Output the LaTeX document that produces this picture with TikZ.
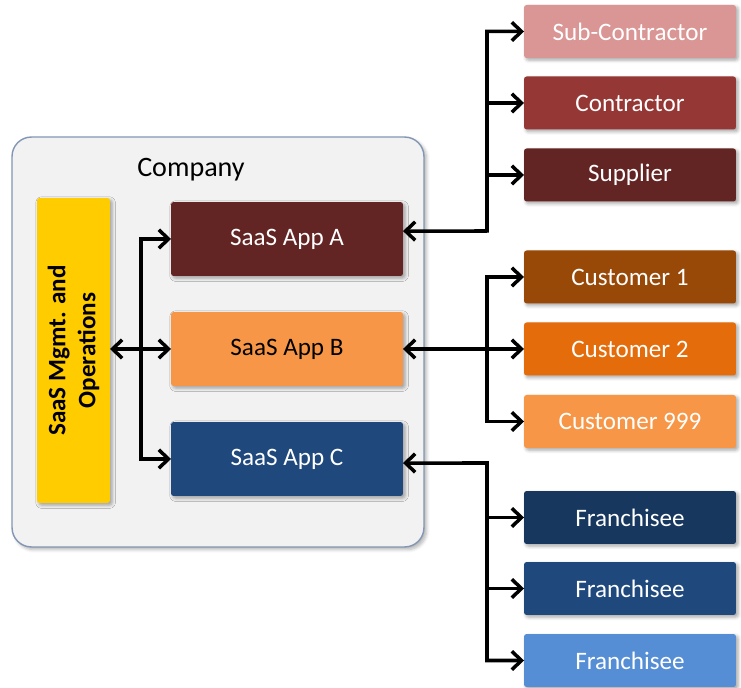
\documentclass[tikz,border=0pt]{standalone}
\usepackage{fontspec}
\setmainfont{Carlito}
\usetikzlibrary{calc}
\usetikzlibrary{arrows.meta}
\usetikzlibrary{shadows.blur}

\definecolor{wine}{HTML}{632523}
\definecolor{rose}{HTML}{D99694}
\definecolor{brick}{HTML}{953735}
\definecolor{rust}{HTML}{984807}
\definecolor{pumpkin}{HTML}{E46C0A}
\definecolor{apricot}{HTML}{F79646}
\definecolor{navy}{HTML}{17375E}
\definecolor{denim}{HTML}{1F497D}
\definecolor{sky}{HTML}{558ED5}
\definecolor{gold}{HTML}{FFCC00}
\definecolor{panel}{HTML}{F2F2F2}
\definecolor{panelline}{HTML}{8397B4}

\begin{document}
\begin{tikzpicture}[x=0.02cm, y=-0.02cm,
    >={Straight Barb[length=5.5pt,width=10.5pt]},
    link/.style={line width=2pt},
    tile/.style={rectangle, rounded corners=1.5pt, outer sep=0pt, text=white,
      font=\fontsize{14.3pt}{17pt}\selectfont,
      blur shadow={shadow blur steps=4, shadow xshift=1.2pt, shadow yshift=-1.2pt, shadow opacity=35}},
    app/.style={tile, minimum width=4.64cm, minimum height=1.48cm},
    partner/.style={tile, minimum width=4.24cm, minimum height=1.06cm}]
        \useasboundingbox (0,0) rectangle (741,688);

        % Company
        \node [rectangle, rounded corners=11pt, fill=panel, draw=panelline, line width=0.8pt,
          minimum width=8.24cm, minimum height=8.2cm,
          blur shadow={shadow blur steps=5, shadow xshift=1.5pt, shadow yshift=-1.5pt, shadow opacity=30}]
          (company) at (218,342) {};
        \node (companylbl) at (191,170) {\fontsize{16pt}{19pt}\selectfont Company};
        \node [tile, fill=gold, text=black, rotate=90, align=center,
          minimum width=6.1cm, minimum height=1.46cm,
          font=\fontsize{14.3pt}{17pt}\selectfont\bfseries]
          (mgmt) at (73.5,350.5) {SaaS Mgmt. and\\Operations};
        \node [app, fill=wine] (appA) at (287,239) {SaaS App A};
        \node [app, fill=apricot, text=black] (appB) at (287,349) {SaaS App B};
        \node [app, fill=denim] (appC) at (287,459) {SaaS App C};

        % Partners
        \node [partner, fill=rose] (sub) at (630,31.5) {Sub-Contractor};
        \node [partner, fill=brick] (con) at (630,103) {Contractor};
        \node [partner, fill=wine] (sup) at (630,175) {Supplier};
        \node [partner, fill=rust] (cus1) at (630,277) {Customer 1};
        \node [partner, fill=pumpkin] (cus2) at (630,349) {Customer 2};
        \node [partner, fill=apricot] (cus9) at (630,421.5) {Customer 999};
        \node [partner, fill=navy] (fr1) at (630,517.5) {Franchisee};
        \node [partner, fill=denim] (fr2) at (630,588.5) {Franchisee};
        \node [partner, fill=sky] (fr3) at (630,660.5) {Franchisee};

        % Inside links
        \coordinate (jL) at (141,349);
        \draw [link, <->] (mgmt.south |- appB.west) -- (appB.west);
        \draw [link, ->] (jL) |- (appA.west);
        \draw [link, ->] (jL) |- (appC.west);

        % Outside links
        \coordinate (jA) at (487,231);
        \draw [link, <->] ([yshift=4.5pt]appA.east) -- (jA) |- (sub.west);
        \draw [link, ->] (jA |- con.west) -- (con.west);
        \draw [link, ->] (jA |- sup.west) -- (sup.west);

        \coordinate (jB) at (487,349);
        \draw [link, <->] (appB.east) -- (cus2.west);
        \draw [link, ->] (jB) |- (cus1.west);
        \draw [link, ->] (jB) |- (cus9.west);

        \coordinate (jC) at (487,463);
        \draw [link, <->] ([yshift=-2.3pt]appC.east) -- (jC) |- (fr3.west);
        \draw [link, ->] (jC |- fr1.west) -- (fr1.west);
        \draw [link, ->] (jC |- fr2.west) -- (fr2.west);
    \end{tikzpicture}
\end{document}
